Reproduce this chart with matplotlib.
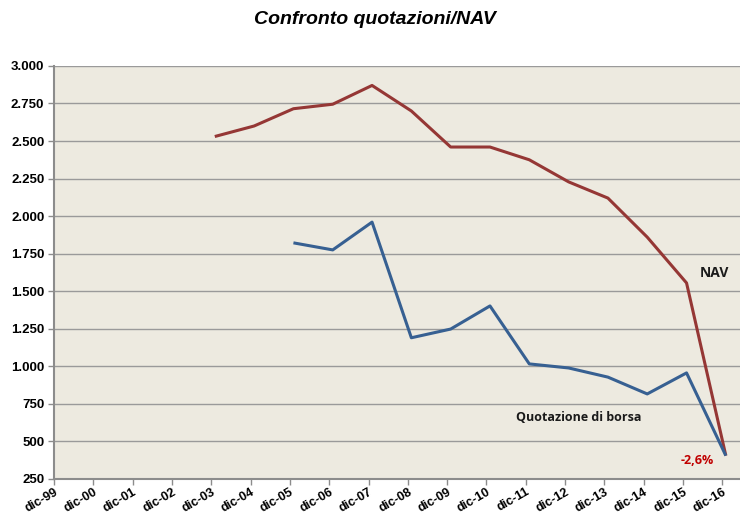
import matplotlib.pyplot as plt
import numpy as np

labels = ['dic-99', 'dic-00', 'dic-01', 'dic-02', 'dic-03', 'dic-04', 'dic-05', 'dic-06', 'dic-07',
          'dic-08', 'dic-09', 'dic-10', 'dic-11', 'dic-12', 'dic-13', 'dic-14', 'dic-15', 'dic-16']

nav_labels = labels[4:]
nav = [2530, 2600, 2715, 2745, 2870, 2700, 2460, 2460, 2375, 2228, 2120, 1860, 1555, 405]

quot_labels = labels[6:]
quot = [1822, 1775, 1960, 1190, 1248, 1402, 1016, 989, 928, 816, 956, 405]

yticks = np.arange(250, 3001, 250)

fig = plt.figure(figsize=(7.4, 5.15), dpi=100)
ax = fig.add_axes([0.073, 0.07, 0.927, 0.802])
ax.set_facecolor('#EDEAE0')

# data sits at year end, a little right of the tick
off = 0.09
xn = [labels.index(l) + off for l in nav_labels]
xq = [labels.index(l) + off for l in quot_labels]

ax.plot(xn, nav, color='#953735', lw=2.2, solid_capstyle='butt', zorder=3)
ax.plot(xq, quot, color='#376092', lw=2.2, solid_capstyle='butt', zorder=3)

ax.set_xlim(0, 17.45)
ax.set_ylim(250, 3000)
ax.set_yticks(yticks)
ax.set_yticklabels(['{:,}'.format(v).replace(',', '.') for v in yticks])
ax.set_xticks(range(len(labels)))
ax.set_xticklabels(labels, rotation=30, ha='right', rotation_mode='anchor')

for lab in ax.get_yticklabels():
    lab.set_family('Liberation Sans')
    lab.set_fontweight('bold')
    lab.set_fontsize(9.5)
for lab in ax.get_xticklabels():
    lab.set_family('Liberation Sans')
    lab.set_fontweight('bold')
    lab.set_fontsize(9)

ax.grid(axis='y', color='#9A9A9A', lw=1.0, zorder=1)
ax.tick_params(axis='both', color='#8C8C8C', length=4, width=1)
ax.tick_params(axis='x', pad=1)
ax.tick_params(axis='y', pad=3)
for s in ['top', 'right']:
    ax.spines[s].set_visible(False)
for s in ['left', 'bottom']:
    ax.spines[s].set_color('#8C8C8C')
    ax.spines[s].set_linewidth(1.5)

ax.text(16.8, 1620, 'NAV', fontsize=10, fontweight='bold', family='Open Sans', color='#1A1A1A', ha='center', va='center')
ax.text(13.35, 660, 'Quotazione di borsa', fontsize=9, fontweight='bold', family='Open Sans', color='#1A1A1A', ha='center', va='center')
ax.text(16.37, 370, '-2,6%', fontsize=9, fontweight='bold', family='Open Sans', color='#C00000', ha='center', va='center')

fig.text(0.507, 0.962, 'Confronto quotazioni/NAV', fontsize=14, fontweight='bold', fontstyle='italic',
         family='Liberation Sans', ha='center', va='center')

fig.savefig('out.png', dpi=100)
